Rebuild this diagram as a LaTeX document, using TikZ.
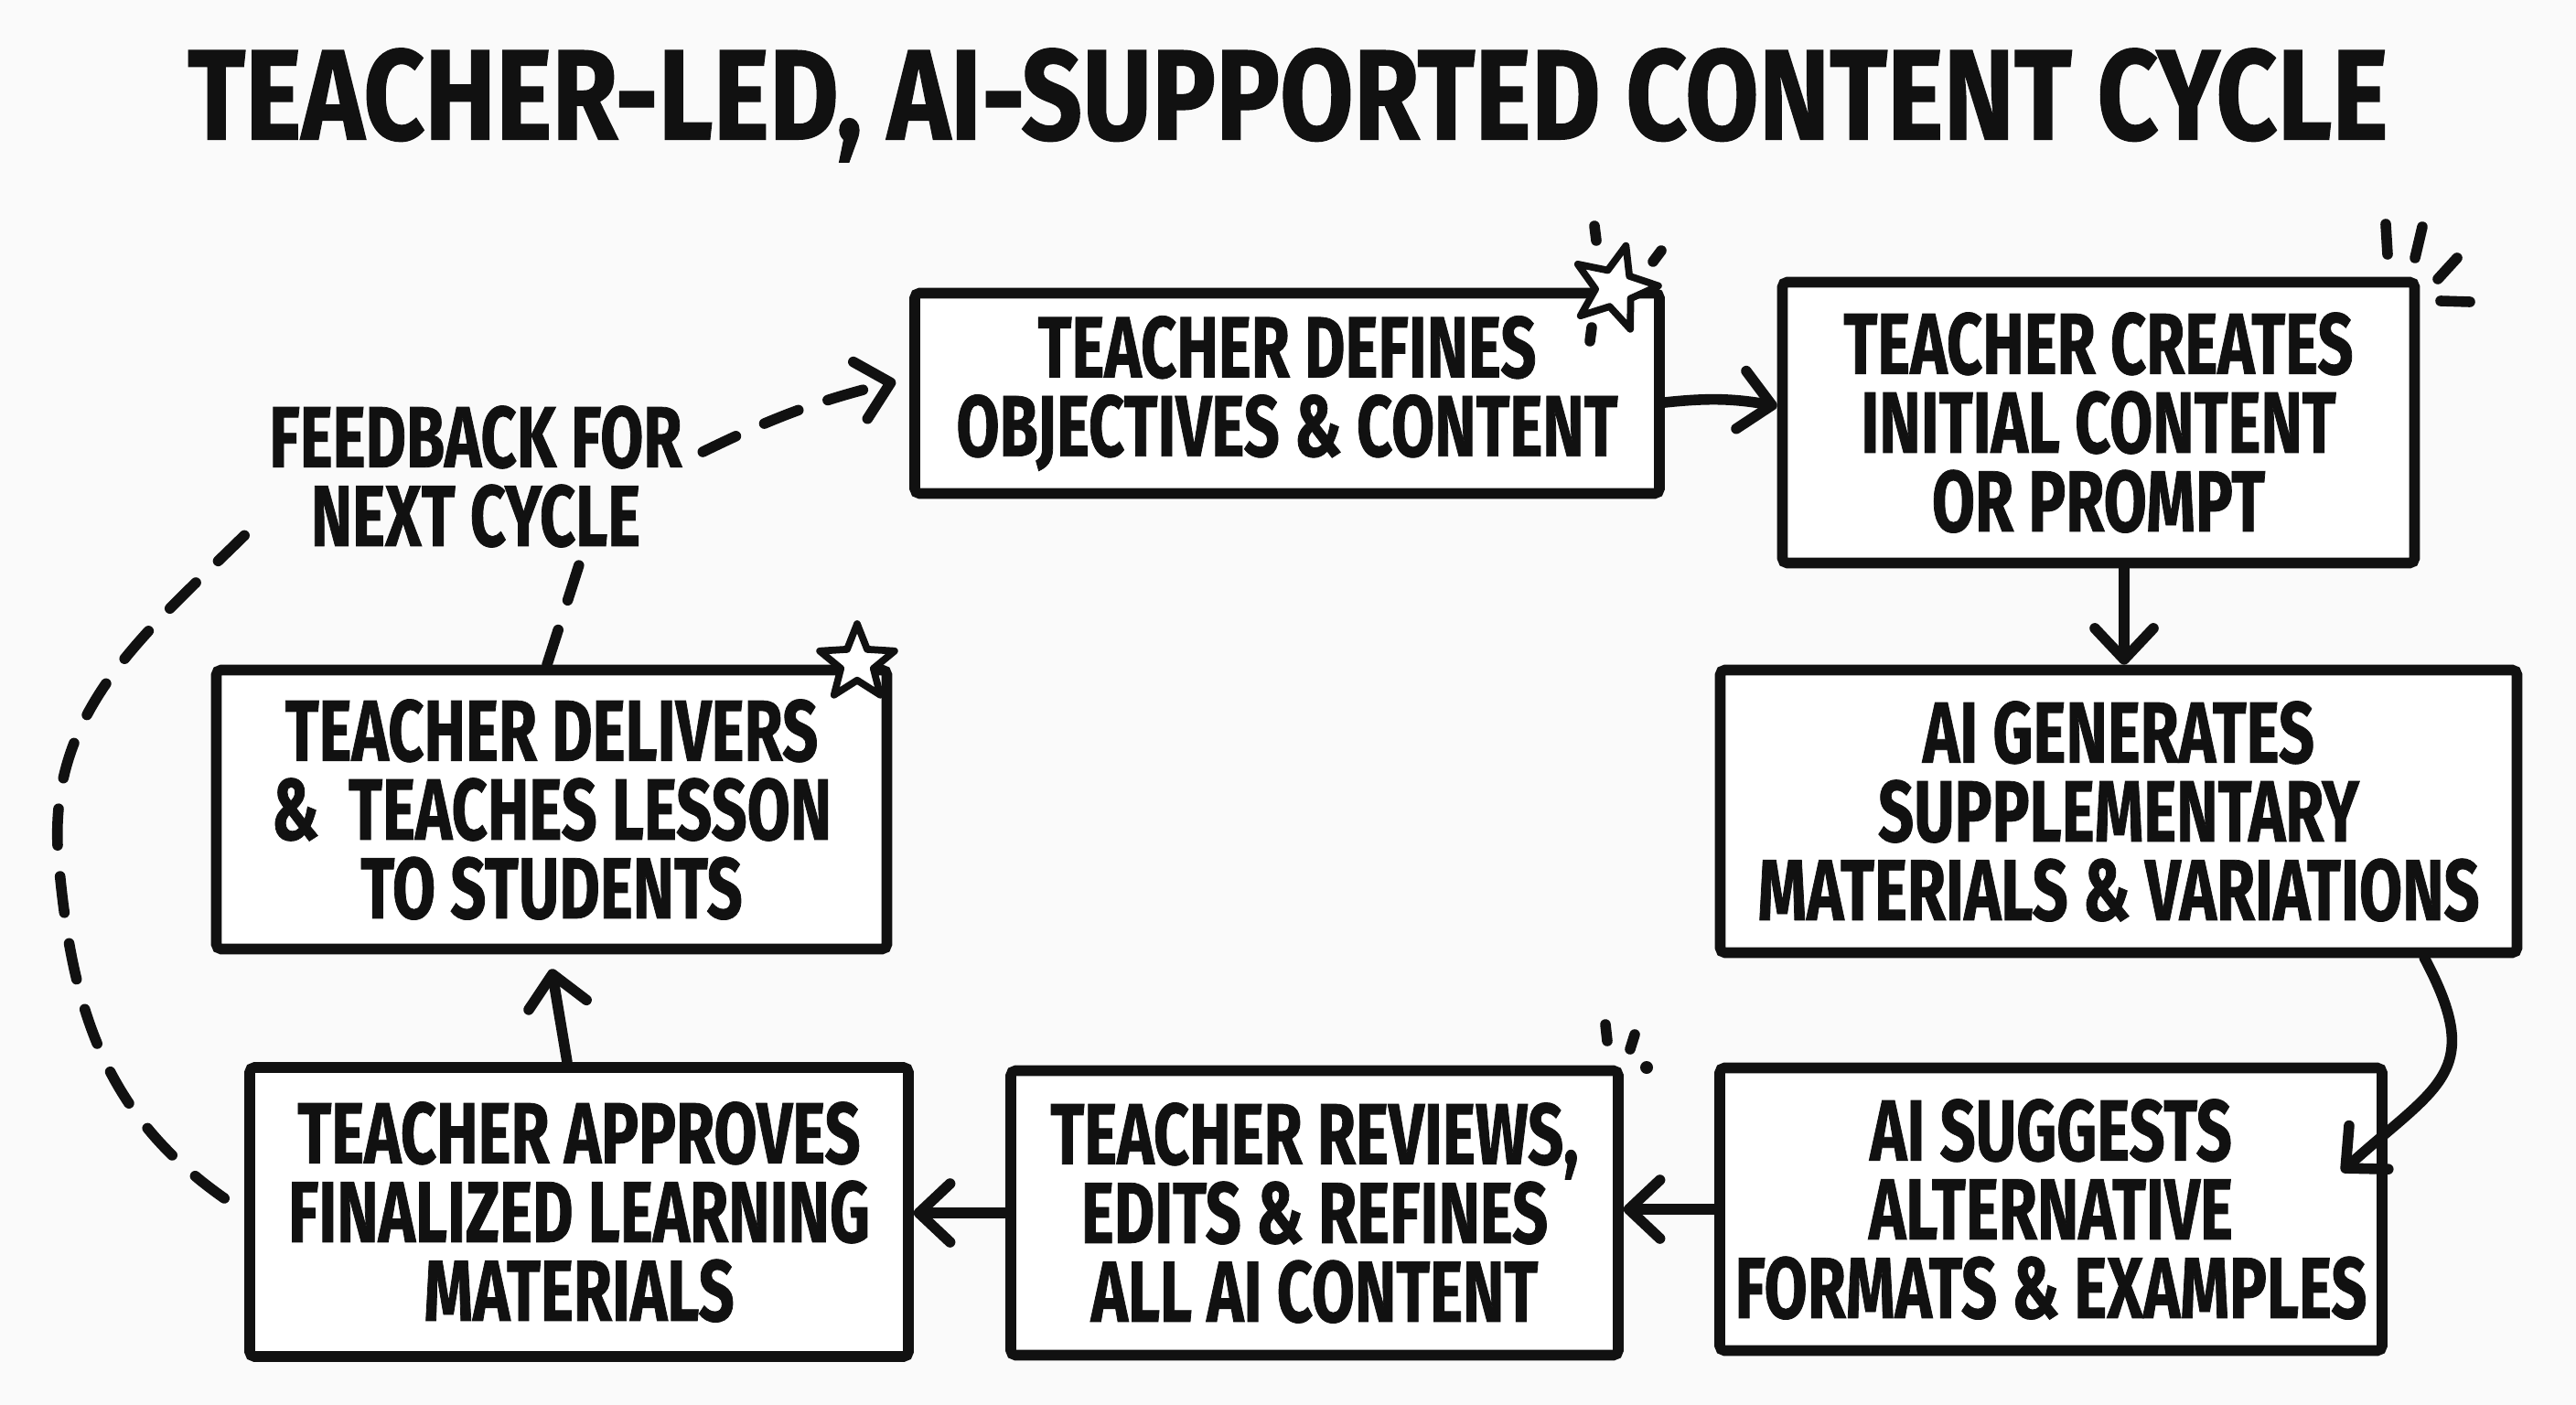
\documentclass[tikz,border=0pt]{standalone}
\usepackage{fontspec}
\usetikzlibrary{arrows.meta,shapes.geometric,calc}
\newfontfamily\handfont{Fira Sans}[FakeStretch=0.72,BoldFeatures={FakeBold=0.8}]
\newfontfamily\headfont{Fira Sans}[FakeStretch=0.83,BoldFeatures={FakeBold=0.8}]
\definecolor{ink}{HTML}{111111}
\definecolor{paper}{HTML}{FAFAFA}
\newcommand{\LW}{3.3pt}

\begin{document}
\begin{tikzpicture}[
  box/.style={draw=ink,fill=white,line width=\LW,rounded corners=1.5pt,align=center,inner sep=0pt,
    font={\handfont\bfseries\fontsize{27}{24.5}\selectfont},text=ink},
  note/.style={align=center,inner sep=2pt,font={\handfont\bfseries\fontsize{27}{24.5}\selectfont},text=ink},
  flow/.style={draw=ink,line width=\LW,line cap=round,
    -{Straight Barb[length=3.4mm,width=6.4mm,line cap=round,line join=round]}},
  loopback/.style={draw=ink,line width=\LW,line cap=round,dash pattern=on 4mm off 3.4mm},
  spark/.style={draw=ink,line width=\LW,line cap=round},
  starmark/.style={star,star points=5,star point ratio=2.3,draw=ink,fill=white,
    line width=2.2pt,line join=round,inner sep=0pt},
]
\fill[paper] (0,0) rectangle (28.16,-15.36);
\useasboundingbox (0,0) rectangle (28.16,-15.36);

% ---------------- title ----------------------------------------------------
\node[font={\headfont\bfseries\fontsize{40}{40}\selectfont},text=ink] (title) at (14.08,-1.15)
  {TEACHER-LED, AI-SUPPORTED CONTENT CYCLE};

% ---------------- steps ----------------------------------------------------
\node[box,minimum width=8.14cm,minimum height=2.19cm] (b1) at (14.07,-4.30)
  {TEACHER DEFINES\\OBJECTIVES \& CONTENT};
\node[box,minimum width=6.91cm,minimum height=3.07cm] (b2) at (22.94,-4.62)
  {TEACHER CREATES\\INITIAL CONTENT\\OR PROMPT};
\node[box,minimum width=8.71cm,minimum height=3.09cm] (b3) at (23.16,-8.87)
  {AI GENERATES\\SUPPLEMENTARY\\MATERIALS \& VARIATIONS};
\node[box,minimum width=7.24cm,minimum height=3.09cm] (b4) at (22.42,-13.22)
  {AI SUGGESTS\\ALTERNATIVE\\FORMATS \& EXAMPLES};
\node[box,minimum width=6.64cm,minimum height=3.11cm] (b5) at (14.37,-13.26)
  {TEACHER REVIEWS,\\EDITS \& REFINES\\ALL AI CONTENT};
\node[box,minimum width=7.20cm,minimum height=3.16cm] (b6) at (6.33,-13.25)
  {TEACHER APPROVES\\FINALIZED LEARNING\\MATERIALS};
\node[box,minimum width=7.33cm,minimum height=3.05cm] (b7) at (6.03,-8.85)
  {TEACHER DELIVERS\\\&\ \ TEACHES LESSON\\TO STUDENTS};

\node[note] (fb) at (5.20,-5.21) {FEEDBACK FOR\\NEXT CYCLE};

% ---------------- arrows ---------------------------------------------------
\draw[flow] ([yshift=-0.1cm]b1.east) to[bend left=8] ([yshift=0.18cm]b2.west);
\draw[flow] ([xshift=0.28cm]b2.south) -- ([xshift=0.28cm]b2.south |- b3.north);
\draw[flow] ([xshift=-1.07cm]b3.south east) to[out=-62,in=42,looseness=1.45] ([shift={(-0.5,0.41)}]b4.east);
\draw[flow] (b4.west) -- (b4.west -| b5.east);
\draw[flow] (b5.west) -- (b5.west -| b6.east);
\draw[flow] ([xshift=-0.13cm]b6.north) -- ([yshift=-0.16cm]b7.south);

% ---------------- feedback loop --------------------------------------------
\coordinate (turn) at (0.64,-9.4);
\draw[loopback] ([shift={(-0.22,0.15)}]b6.west) to[out=145,in=-85] (turn)
  to[out=95,in=-135] ([shift={(-0.05,-0.5)}]fb.west);
\draw[loopback,-{Straight Barb[length=3.4mm,width=6.4mm,line cap=round,line join=round]}]
  ([shift={(0.15,0.27)}]fb.east) to[bend left=6] ([shift={(-0.15,0.13)}]b1.west);
\draw[loopback] ([xshift=-0.05cm]b7.north) -- ([shift={(1.15,-0.05)}]fb.south);

% ---------------- doodles --------------------------------------------------
\node[starmark,minimum size=0.96cm,rotate=-15] (star1) at (17.65,-3.15) {};
\draw[spark] (17.43,-2.47) -- (17.45,-2.63);
\draw[spark] (18.16,-2.74) -- (18.07,-2.86);
\draw[spark] (17.40,-3.58) -- (17.38,-3.73);

\draw[spark] (26.08,-2.45) -- (26.10,-2.78);
\draw[spark] (26.48,-2.48) -- (26.40,-2.82);
\draw[spark] (26.86,-2.82) -- (26.65,-3.05);
\draw[spark] (26.68,-3.29) -- (27.00,-3.30);

\draw[spark] (17.55,-11.20) -- (17.57,-11.38);
\draw[spark] (17.87,-11.31) -- (17.82,-11.47);
\fill[ink] (18.00,-11.67) circle (0.07);

\node[starmark,minimum size=0.86cm] (star2) at (9.37,-7.25) {};
\end{tikzpicture}
\end{document}
